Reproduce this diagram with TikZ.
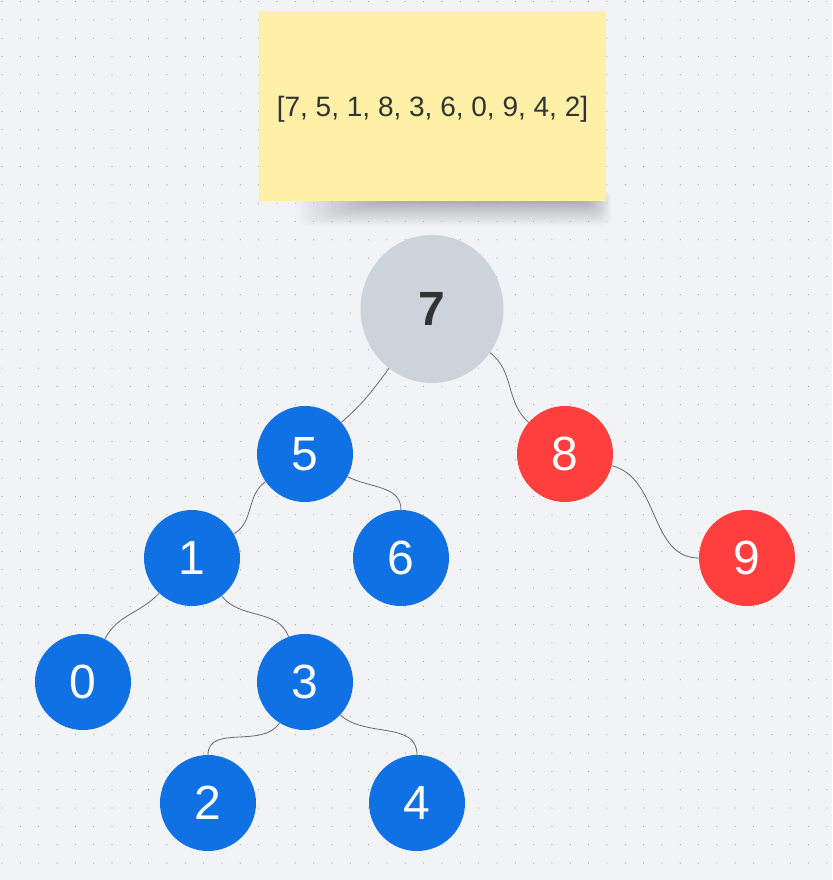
\documentclass[tikz,border=0pt]{standalone}
\usepackage{fontspec}
\setmainfont{Liberation Sans}
\usetikzlibrary{shapes.geometric}
\definecolor{bg}{HTML}{F2F3F5}
\definecolor{dotc}{HTML}{A3A7AD}
\definecolor{noteY}{HTML}{FFF0A8}
\definecolor{txt}{HTML}{333333}
\definecolor{blueN}{HTML}{1071E5}
\definecolor{redN}{HTML}{FF3E3E}
\definecolor{grayN}{HTML}{CDD3DB}
\definecolor{edgeC}{HTML}{686868}
\begin{document}
\begin{tikzpicture}[x=1pt,y=1pt,
  bnode/.style={circle, fill=blueN, minimum size=96pt, inner sep=0pt, text=white, font=\fontsize{48}{48}\selectfont},
  rnode/.style={bnode, fill=redN},
  rootnode/.style={ellipse, fill=grayN, minimum width=143pt, minimum height=148pt, inner sep=0pt, text=txt, font=\fontsize{48}{48}\selectfont\bfseries},
  edge/.style={draw=edgeC, line width=0.8pt},
  notebox/.style={fill=noteY, minimum width=347pt, minimum height=190pt, inner sep=0pt},
  notetext/.style={text=txt, inner sep=0pt, font=\fontsize{28}{28}\selectfont}]
\useasboundingbox (0,0) rectangle (832,-880);
\fill[bg] (0,0) rectangle (832,-880);
% soft shadow of the note
\foreach \i in {0,...,23}
  \fill[black, opacity=0.010, rounded corners=10pt] (296+3.5*\i,-190) rectangle (612-1*\i,-226+1.1*\i);
% dot grid
\foreach \x in {0,...,45}
  \foreach \y in {0,...,47}
    \fill[dotc] (2+18.33*\x,-1.5-18.33*\y) circle (0.6pt);
% sticky note
\node[notebox] (note) at (432.5,-106) {};
\node[notetext, anchor=base] (notetxt) at (432.5,-117) {[7, 5, 1, 8, 3, 6, 0, 9, 4, 2]};
% tree nodes
\node[rootnode] (n7) at (432,-309) {7};
\node[bnode] (n5) at (305,-454) {5};
\node[rnode] (n8) at (565,-454) {8};
\node[bnode] (n1) at (192,-558) {1};
\node[bnode] (n6) at (401,-558) {6};
\node[rnode] (n9) at (747,-558) {9};
\node[bnode] (n0) at (83,-682) {0};
\node[bnode] (n3) at (305,-682) {3};
\node[bnode] (n2) at (208,-803) {2};
\node[bnode] (n4) at (417,-803) {4};
% connectors
\draw[edge] (n7.-126) to[out=-126,in=41] (n5.41);
\draw[edge] (n7.-37) to[out=-37,in=139] (n8.139);
\draw[edge] (n5.-145) to[out=-145,in=30] (n1.30);
\draw[edge] (n5.-28) to[out=-28,in=90] (n6.90);
\draw[edge] (n8.-14) to[out=-14,in=180] (n9.180);
\draw[edge] (n1.-133) to[out=-133,in=63] (n0.63);
\draw[edge] (n1.-52) to[out=-52,in=110] (n3.110);
\draw[edge] (n3.-122) to[out=-122,in=90] (n2.90);
\draw[edge] (n3.-43) to[out=-43,in=90] (n4.90);
\end{tikzpicture}
\end{document}
